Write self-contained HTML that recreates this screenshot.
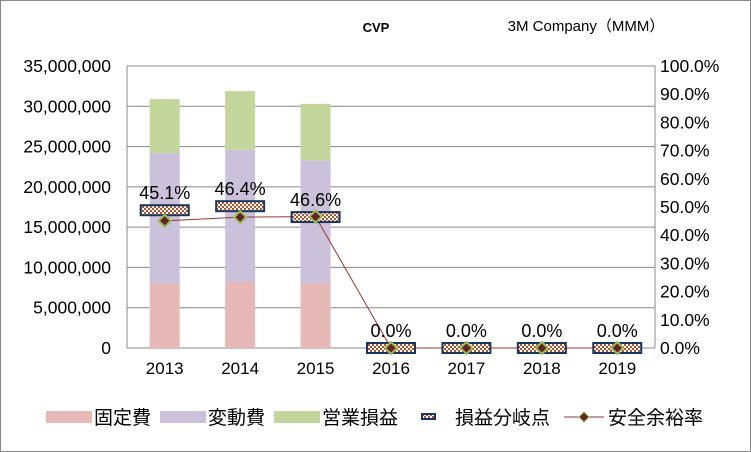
<!DOCTYPE html>
<html><head><meta charset="utf-8"><style>
body{margin:0;background:#fff}
svg{display:block;font-family:"Liberation Sans","Noto Sans CJK JP",sans-serif}
</style></head><body>
<svg id="c" width="751" height="452" xmlns="http://www.w3.org/2000/svg">
<defs>
<pattern id="chk" width="4" height="4" patternUnits="userSpaceOnUse">
<rect width="4" height="4" fill="#fff"/><rect width="2" height="2" fill="#b5522a"/><rect x="2" y="2" width="2" height="2" fill="#b5522a"/>
</pattern>
</defs>
<rect x="0.5" y="0.5" width="750" height="451" fill="#fff" stroke="#888"/>
<text x="376" y="32" font-size="13" font-weight="bold" text-anchor="middle">CVP</text>
<text x="586" y="31" font-size="15" text-anchor="middle">3M Company（MMM）</text>
<g id="g"></g>
</svg>
<script>
const categories=["2013","2014","2015","2016","2017","2018","2019"];
const fixedCost=[8.0,8.2,8.0,0,0,0,0];
const variableCost=[16.2,16.4,15.3,0,0,0,0];
const operatingProfit=[6.7,7.3,7.0,0,0,0,0];
const breakEven=[17.1,17.6,16.25,0,0,0,0];
const safetyMargin=[45.1,46.4,46.6,0,0,0,0];
const leftTicks=[0,5,10,15,20,25,30,35];
const rightTicks=[0,10,20,30,40,50,60,70,80,90,100];
const NS="http://www.w3.org/2000/svg";
const g=document.getElementById('g');
const L=127,R=655,T=66,B=348;
const yL=v=>B-(v/35)*(B-T);
const yR=v=>B-(v/100)*(B-T);
const step=(R-L)/categories.length;
const xC=i=>L+step*(i+0.5);
function el(t,a,p){const e=document.createElementNS(NS,t);for(const k in a)e.setAttribute(k,a[k]);(p||g).appendChild(e);return e;}
leftTicks.forEach(v=>{
 const l=el('line',{x1:L,x2:R,y1:yL(v),y2:yL(v),stroke:'#888','stroke-width':1});
 
 
 const t=el('text',{x:111,y:yL(v)+6,'font-size':17.5,'text-anchor':'end'});
 t.textContent=(v*1000000).toLocaleString('en-US');
 
 
});
rightTicks.forEach(v=>{
 const t=el('text',{x:R+5,y:yR(v)+6,'font-size':17.5});
 t.textContent=v.toFixed(1)+'%';
 
 
});
el('line',{x1:L,x2:L,y1:T,y2:B,stroke:'#888'});
el('line',{x1:R,x2:R,y1:T,y2:B,stroke:'#888'});
categories.forEach((c,i)=>{
 const x=xC(i),w=30;
 let base=0;
 [[fixedCost,'#e6b9b8','bar-fixed-cost'],[variableCost,'#ccc1da','bar-variable-cost'],[operatingProfit,'#c3d69b','bar-operating-profit']].forEach(([arr,col,n])=>{
  const v=arr[i];
  if(v>0){const r=el('rect',{x:x-w/2,y:yL(base+v),width:w,height:yL(base)-yL(base+v),fill:col});
  
  }
  base+=v;
 });
 const t=el('text',{x:x,y:B+26,'font-size':17,'text-anchor':'middle'});
 t.textContent=c;
 
 
});
const pts=safetyMargin.map((v,i)=>xC(i)+','+yR(v)).join(' ');
const pl=el('polyline',{points:pts,fill:'none',stroke:'#953735','stroke-width':1});


categories.forEach((c,i)=>{
 const x=xC(i),y=yL(breakEven[i]);
 const r=el('rect',{x:x-24,y:y-5,width:48,height:10,fill:'url(#chk)',stroke:'#17375e','stroke-width':2});
 
 
 const t=el('text',{x:x,y:y-11,'font-size':18,'text-anchor':'middle'});
 t.textContent=safetyMargin[i].toFixed(1)+'%';
 
 
});
safetyMargin.forEach((v,i)=>{
 const x=xC(i),y=yR(v);
 const d=el('polygon',{points:`${x},${y-6} ${x+6},${y} ${x},${y+6} ${x-6},${y}`,fill:'#632523',stroke:'#9bbb59','stroke-width':2});
 
 
});
const lg=el('g',{});


const ly=418;
[[46,'#e6b9b8','固定費'],[160,'#ccc1da','変動費'],[274,'#c3d69b','営業損益']].forEach(([x,c,n])=>{
 const r=el('rect',{x:x,y:ly-7,width:46,height:12,fill:c},lg);
 
 
 const t=el('text',{x:x+48,y:ly+6,'font-size':19},lg);t.textContent=n;
 
 
});
el('rect',{x:422,y:ly-4,width:13,height:5,fill:'url(#chk)',stroke:'#17375e','stroke-width':2},lg);
const t1=el('text',{x:455,y:ly+6,'font-size':19},lg);t1.textContent='損益分岐点';


el('line',{x1:564,x2:604,y1:ly-1,y2:ly-1,stroke:'#953735'},lg);
el('polygon',{points:`584,${ly-6} 589,${ly-1} 584,${ly+4} 579,${ly-1}`,fill:'#632523',stroke:'#9bbb59'},lg);
const t2=el('text',{x:608,y:ly+6,'font-size':19},lg);t2.textContent='安全余裕率';


</script>
</body></html>
